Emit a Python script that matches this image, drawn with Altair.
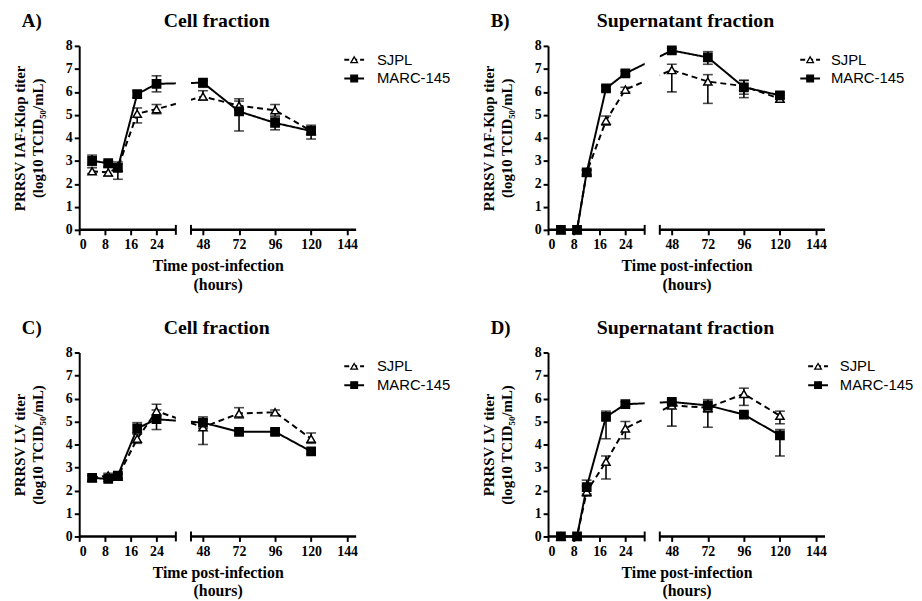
import altair as alt
import pandas as pd

times = [4, 9, 12, 18, 24, 48, 72, 96, 120]
series = ["SJPL", "MARC-145"]
x_ticks = [0, 8, 16, 24, 48, 72, 96, 120, 144]

# Panel A: PRRSV IAF-Klop, cell fraction
a_sjpl = [2.55, 2.5, 2.7, 5.05, 5.25, 5.8, 5.4, 5.2, 4.3]
a_sjpl_lo = [2.45, 2.35, 2.55, 4.65, 5.05, 5.65, 5.2, 4.95, 4.15]
a_sjpl_hi = [2.7, 2.7, 2.85, 5.3, 5.45, 6.05, 5.7, 5.45, 4.45]
a_marc = [3.0, 2.9, 2.7, 5.9, 6.35, 6.4, 5.15, 4.65, 4.3]
a_marc_lo = [2.8, 2.75, 2.2, 5.75, 6.0, 6.2, 4.3, 4.35, 3.95]
a_marc_hi = [3.25, 3.0, 2.95, 6.05, 6.7, 6.5, 5.6, 4.9, 4.55]

# Panel B: PRRSV IAF-Klop, supernatant fraction
b_sjpl = [0, 0, 2.5, 4.75, 6.1, 6.95, 6.45, 6.25, 5.7]
b_sjpl_lo = [0, 0, 2.4, 4.55, 6.0, 6.0, 5.5, 5.75, 5.55]
b_sjpl_hi = [0, 0, 2.6, 4.95, 6.2, 7.2, 6.75, 6.5, 5.85]
b_marc = [0, 0, 2.5, 6.15, 6.8, 7.8, 7.5, 6.2, 5.85]
b_marc_lo = [0, 0, 2.4, 6.05, 6.7, 7.7, 7.2, 5.9, 5.75]
b_marc_hi = [0, 0, 2.6, 6.25, 6.9, 7.9, 7.75, 6.5, 5.95]

# Panel C: PRRSV LV, cell fraction
c_sjpl = [2.55, 2.65, 2.6, 4.25, 5.45, 4.75, 5.35, 5.4, 4.25]
c_sjpl_lo = [2.45, 2.55, 2.5, 4.05, 5.2, 4.0, 5.15, 5.3, 4.05]
c_sjpl_hi = [2.65, 2.75, 2.7, 4.45, 5.75, 5.05, 5.6, 5.5, 4.5]
c_marc = [2.55, 2.5, 2.65, 4.7, 5.1, 4.95, 4.55, 4.55, 3.7]
c_marc_lo = [2.45, 2.4, 2.55, 4.5, 4.65, 4.7, 4.45, 4.45, 3.6]
c_marc_hi = [2.65, 2.6, 2.75, 4.95, 5.5, 5.2, 4.65, 4.65, 3.8]

# Panel D: PRRSV LV, supernatant fraction
d_sjpl = [0, 0, 1.95, 3.25, 4.7, 5.7, 5.6, 6.2, 5.25]
d_sjpl_lo = [0, 0, 1.75, 2.5, 4.25, 4.8, 4.75, 5.7, 4.9]
d_sjpl_hi = [0, 0, 2.2, 3.5, 5.0, 5.85, 5.8, 6.45, 5.45]
d_marc = [0, 0, 2.15, 5.2, 5.75, 5.85, 5.7, 5.3, 4.4]
d_marc_lo = [0, 0, 1.85, 4.25, 5.65, 5.75, 5.4, 5.2, 3.5]
d_marc_hi = [0, 0, 2.45, 5.45, 5.85, 5.95, 5.95, 5.4, 4.65]

W = 280
H = 186
SERIF = "Liberation Serif"
SANS = "Liberation Sans"

xscale = alt.Scale(domain=[0, 30, 40, 150], range=[0, 97.7, 113, W], nice=False, zero=False)
yscale = alt.Scale(domain=[0, 8], nice=False, zero=True)
dash_scale = alt.Scale(domain=series, range=[[6, 4], [1, 0]])
shape_scale = alt.Scale(domain=series, range=["triangle-up", "square"])
fill_scale = alt.Scale(domain=series, range=["white", "black"])

X_TITLE = ["Time post-infection", "(hours)"]


def xenc(field):
    return alt.X(
        field,
        type="quantitative",
        scale=xscale,
        title=X_TITLE,
        axis=alt.Axis(values=x_ticks, domain=False, titlePadding=6, titleLineHeight=19,
                      labelPadding=3),
    )


def yenc(field, ytitle):
    return alt.Y(
        field,
        type="quantitative",
        scale=yscale,
        title=ytitle,
        axis=alt.Axis(values=list(range(0, 9)), titlePadding=20, titleLineHeight=18,
                      labelPadding=2),
    )


def panel(label, ptitle, ytitle, sj, sj_lo, sj_hi, mc, mc_lo, mc_hi, leg_x, txt_x):
    rows = []
    for name, v, lo, hi in [("SJPL", sj, sj_lo, sj_hi), ("MARC-145", mc, mc_lo, mc_hi)]:
        for t, a, b, c in zip(times, v, lo, hi):
            rows.append({"time": t, "value": a, "lo": b, "hi": c, "series": name})
    df = pd.DataFrame(rows)
    base = alt.Chart(df)

    line = base.mark_line(color="black", strokeWidth=2).encode(
        x=xenc("time"), y=yenc("value", ytitle),
        strokeDash=alt.StrokeDash("series:N", scale=dash_scale, legend=None),
        detail="series:N",
    )
    gap = alt.Chart(pd.DataFrame({"a": [30], "b": [40]})).mark_rect(color="white").encode(
        x=xenc("a"), x2="b:Q", y=alt.value(-6), y2=alt.value(H - 2)
    )
    err = base.mark_rule(color="black", strokeWidth=1.6).encode(
        x=xenc("time"), y=yenc("lo", ytitle), y2="hi:Q"
    )
    cap_lo = base.mark_tick(color="black", orient="horizontal", size=10, thickness=1.6).encode(
        x=xenc("time"), y=yenc("lo", ytitle)
    )
    cap_hi = base.mark_tick(color="black", orient="horizontal", size=10, thickness=1.6).encode(
        x=xenc("time"), y=yenc("hi", ytitle)
    )
    pts = base.mark_point(filled=True, size=70, strokeWidth=1.5, opacity=1).encode(
        x=xenc("time"), y=yenc("value", ytitle),
        shape=alt.Shape("series:N", scale=shape_scale, legend=None),
        fill=alt.Fill("series:N", scale=fill_scale, legend=None),
        stroke=alt.value("black"),
    )
    segs = alt.Chart(pd.DataFrame({"s": [0, 40], "e": [30, 150]})).mark_rule(
        color="black", strokeWidth=2.5
    ).encode(x=xenc("s"), x2="e:Q", y=alt.value(H))
    brk = alt.Chart(pd.DataFrame({"b": [30, 40]})).mark_rule(
        color="black", strokeWidth=2
    ).encode(x=xenc("b"), y=alt.value(H - 5), y2=alt.value(H + 5))

    one = alt.Chart(pd.DataFrame({"k": [0]}))
    leg = []
    for i, name in enumerate(series):
        yy = 14 + i * 19
        dash = [5, 3] if name == "SJPL" else [1, 0]
        leg.append(one.mark_rule(color="black", strokeWidth=2, strokeDash=dash).encode(
            x=alt.value(leg_x), x2=alt.value(leg_x + 20), y=alt.value(yy)))
        leg.append(one.mark_point(
            shape="triangle-up" if name == "SJPL" else "square",
            filled=True, fill="white" if name == "SJPL" else "black",
            stroke="black", strokeWidth=1.3, size=45, opacity=1,
        ).encode(x=alt.value(leg_x + 10), y=alt.value(yy)))
        leg.append(one.mark_text(
            text=name, font=SANS, fontSize=15, align="left", baseline="middle", color="black"
        ).encode(x=alt.value(txt_x), y=alt.value(yy)))

    lab = one.mark_text(text=label, font=SERIF, fontSize=19, fontWeight="bold",
                        align="left", baseline="alphabetic", color="black").encode(
        x=alt.value(-58), y=alt.value(-19))
    ttl = one.mark_text(text=ptitle, font=SERIF, fontSize=20, fontWeight="bold",
                        align="center", baseline="alphabetic", color="black").encode(
        x=alt.value(139), y=alt.value(-19))

    return alt.layer(line, gap, err, cap_lo, cap_hi, pts, segs, brk, *leg, lab, ttl).properties(
        width=W, height=H
    )


YT_IAF = ["PRRSV IAF-Klop titer", "(log10 TCID\u2085\u2080/mL)"]
YT_LV = ["PRRSV LV titer", "(log10 TCID\u2085\u2080/mL)"]

pA = panel("A)", "Cell fraction", YT_IAF, a_sjpl, a_sjpl_lo, a_sjpl_hi, a_marc, a_marc_lo, a_marc_hi, 268, 301)
pB = panel("B)", "Supernatant fraction", YT_IAF, b_sjpl, b_sjpl_lo, b_sjpl_hi, b_marc, b_marc_lo, b_marc_hi, 255, 286)
pC = panel("C)", "Cell fraction", YT_LV, c_sjpl, c_sjpl_lo, c_sjpl_hi, c_marc, c_marc_lo, c_marc_hi, 268, 301)
pD = panel("D)", "Supernatant fraction", YT_LV, d_sjpl, d_sjpl_lo, d_sjpl_hi, d_marc, d_marc_lo, d_marc_hi, 263, 295)

chart = alt.vconcat(
    alt.hconcat(pA, pB, spacing=31),
    alt.hconcat(pC, pD, spacing=31),
    spacing=26,
).configure_view(stroke=None).configure_axis(
    labelFont=SERIF, labelFontWeight="bold", labelFontSize=14, labelColor="black",
    titleFont=SERIF, titleFontWeight="bold", titleFontSize=16, titleColor="black",
    domainColor="black", domainWidth=2, tickColor="black", tickWidth=2, tickSize=5, grid=False,
).configure_axisY(titleFontSize=15).properties(
    background="white", padding={"left": 5, "top": 0, "right": 0, "bottom": 5}
)

chart.save("out.html", embed_options={"renderer": "svg", "actions": False})
